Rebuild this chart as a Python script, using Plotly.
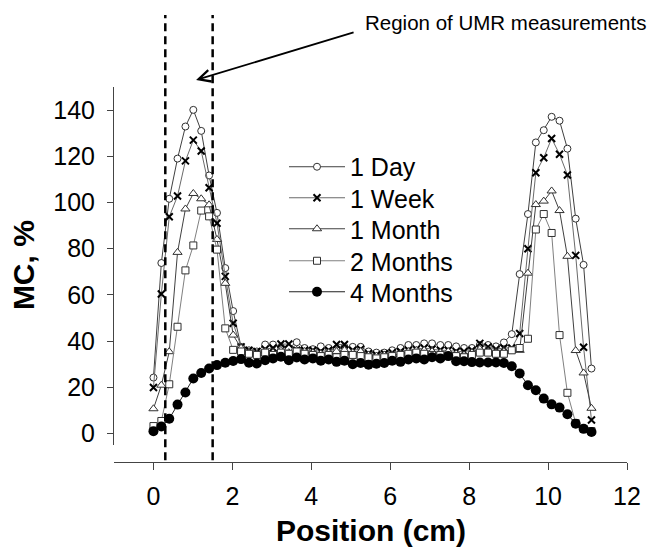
import plotly.graph_objects as go

# Position along the sample (cm)
positions = [0.00, 0.20, 0.40, 0.61, 0.81, 1.01, 1.21, 1.41, 1.61, 1.82, 2.02, 2.22,
             2.42, 2.62, 2.83, 3.03, 3.23, 3.43, 3.63, 3.83, 4.04, 4.24, 4.44, 4.64,
             4.84, 5.05, 5.25, 5.45, 5.65, 5.85, 6.05, 6.26, 6.46, 6.66, 6.86, 7.06,
             7.27, 7.47, 7.67, 7.87, 8.07, 8.27, 8.48, 8.68, 8.88, 9.08, 9.28, 9.49,
             9.69, 9.89, 10.09, 10.29, 10.49, 10.70, 10.90, 11.10]

day1 = [24.2, 73.8, 101.6, 119.0, 132.9, 140.1, 131.0, 111.7, 95.5, 71.6, 53.0, 37.5,
        36.0, 35.5, 38.5, 38.5, 37.5, 37.0, 39.5, 37.0, 36.5, 37.7, 37.0, 36.0, 37.5,
        37.5, 37.5, 35.5, 35.0, 35.0, 36.0, 37.0, 38.3, 38.3, 39.0, 39.0, 38.3, 38.3,
        37.7, 37.0, 37.0, 38.3, 38.3, 37.7, 39.4,
        43.0, 69.0, 95.0, 126.0, 131.3, 137.1, 135.4, 123.3, 93.0, 73.0, 28.1]

week1 = [19.9, 60.4, 93.8, 102.8, 118.0, 127.0, 122.3, 106.4, 91.0, 68.0, 47.7, 37.5,
         36.0, 35.5, 36.5, 37.0, 38.7, 38.7, 36.0, 36.0, 36.0, 35.5, 36.0, 38.5, 38.5,
         36.0, 36.5, 34.6, 34.0, 34.5, 35.0, 35.5, 36.0, 36.5, 37.0, 36.5, 36.0, 36.0,
         35.5, 35.5, 36.0, 39.0, 37.5, 36.5, 37.0, 37.0,
         43.3, 80.0, 112.9, 119.4, 127.7, 120.9, 111.9, 77.1, 37.3, 5.8]

month1 = [10.7, 20.9, 35.4, 78.4, 97.2, 103.9, 101.6, 99.0, 84.0, 65.0, 42.6, 37.0,
          35.0, 34.5, 35.5, 35.0, 36.0, 35.0, 36.0, 35.5, 35.0, 34.5, 35.0, 35.5, 36.0,
          35.0, 35.5, 34.0, 33.5, 34.0, 34.0, 34.5, 35.5, 36.0, 36.0, 35.5, 35.0, 35.5,
          34.5, 34.0, 35.0, 36.5, 35.5, 35.0, 35.5, 36.0,
          36.0, 69.4, 99.1, 100.6, 105.0, 96.5, 76.7, 35.9, 26.2, 10.9]

months2 = [3.2, 5.4, 21.3, 46.2, 70.6, 81.4, 96.5, 94.0, 79.6, 45.5, 36.2, 35.5,
           34.5, 34.0, 35.0, 34.0, 35.0, 34.5, 35.5, 34.5, 34.0, 33.5, 34.0, 33.0, 34.0,
           34.0, 33.5, 33.0, 32.5, 33.0, 33.5, 34.0, 34.5, 35.0, 34.5, 34.0, 34.0, 33.5,
           33.5, 33.0, 34.0, 35.0, 35.0, 34.5, 34.5, 36.0,
           37.0, 41.0, 88.3, 95.0, 86.8, 42.6, 17.6, 4.5, 2.0, 1.0]

months4 = [1.0, 3.0, 6.4, 12.5, 17.7, 23.8, 26.2, 28.1, 29.6, 30.6, 31.4, 32.2,
           30.6, 30.3, 31.7, 32.5, 33.2, 31.7, 32.9, 32.0, 32.5, 31.5, 32.0, 31.0, 31.5,
           30.0, 30.5, 29.8, 30.2, 30.5, 31.5, 31.0, 32.0, 32.5, 32.0, 33.0, 32.5, 33.5,
           31.3, 31.3, 30.9, 30.7, 30.7, 30.7, 30.5, 29.1,
           26.0, 20.9, 18.7, 15.1, 12.6, 11.2, 8.3, 4.2, 2.0, 0.6]

series_names = ["1 Day", "1 Week", "1 Month", "2 Months", "4 Months"]
x_ticks = [0, 2, 4, 6, 8, 10, 12]
y_ticks = [0, 20, 40, 60, 80, 100, 120, 140]
umr_region = [0.3, 1.5]

FONT = "Arial, Liberation Sans, sans-serif"

styles = [
    dict(line=dict(color="#404040", width=1),
         marker=dict(symbol="circle", size=7, color="white", line=dict(color="#303030", width=1))),
    dict(line=dict(color="#6a6a6a", width=1),
         marker=dict(symbol="x-thin", size=7, color="black", line=dict(color="black", width=2))),
    dict(line=dict(color="#404040", width=1),
         marker=dict(symbol="triangle-up", size=8, color="white", line=dict(color="#303030", width=1))),
    dict(line=dict(color="#808080", width=1),
         marker=dict(symbol="square", size=7, color="white", line=dict(color="#303030", width=1))),
    dict(line=dict(color="#202020", width=1),
         marker=dict(symbol="circle", size=10, color="black", line=dict(color="black", width=0))),
]

legend_ids = ["legend", "legend2", "legend3", "legend4", "legend5"]
legend_rows = [0.7867, 0.704, 0.6213, 0.536, 0.4533]

fig = go.Figure()
for name, vals, st, lid in zip(series_names, [day1, week1, month1, months2, months4],
                               styles, legend_ids):
    fig.add_trace(go.Scatter(x=positions, y=vals, name=name, mode="lines+markers",
                             line=st["line"], marker=st["marker"], legend=lid))

for xv in umr_region:
    fig.add_shape(type="line", xref="x", yref="paper", x0=xv, x1=xv, y0=0.005, y1=1.192,
                  line=dict(color="black", width=2.5, dash="8px,5px"))

legend_layout = {}
for lid, yrow in zip(legend_ids, legend_rows):
    legend_layout[lid] = dict(x=0.3314, y=yrow, xanchor="left", yanchor="middle",
                              itemwidth=56, font=dict(size=25, family=FONT),
                              bgcolor="rgba(0,0,0,0)")

fig.update_layout(
    width=652, height=548,
    margin=dict(l=114, r=25, t=87, b=86),
    plot_bgcolor="white", paper_bgcolor="white",
    font=dict(family=FONT, color="black"),
    showlegend=True,
    xaxis=dict(range=[-1, 12], tickvals=x_ticks, ticks="outside", ticklen=7,
               tickcolor="#444", showline=True, linecolor="#444", linewidth=1,
               showgrid=False, zeroline=False, anchor="free", position=0,
               tickfont=dict(size=25), ticklabelstandoff=5),
    yaxis=dict(range=[-5, 150], domain=[0.0453, 1], tickvals=y_ticks, ticks="outside",
               ticklen=6, tickcolor="#444", showline=True, linecolor="#444", linewidth=1,
               showgrid=False, zeroline=False, tickfont=dict(size=25), ticklabelstandoff=7),
    annotations=[
        dict(text="MC, %", xref="paper", yref="paper", x=-0.1774, y=0.525,
             textangle=-90, showarrow=False, xanchor="center", yanchor="middle",
             font=dict(size=30, weight="bold")),
        dict(text="Position (cm)", xref="paper", yref="paper", x=0.5, y=-0.183,
             showarrow=False, xanchor="center", yanchor="middle",
             font=dict(size=30, weight="bold")),
        dict(text="Region of UMR measurements", xref="paper", yref="paper",
             x=0.4854, y=1.1733, showarrow=False, xanchor="left", yanchor="middle",
             font=dict(size=20.5)),
        dict(text="", xref="paper", yref="paper", x=0.160, y=1.0187,
             ax=159, ay=-48, showarrow=True, arrowhead=5, arrowsize=1.3,
             arrowwidth=1.8, arrowcolor="black", standoff=0),
    ],
    **legend_layout,
)

fig.write_html("out.html", config={"displayModeBar": False},
               post_script="document.body.style.margin='0';")
